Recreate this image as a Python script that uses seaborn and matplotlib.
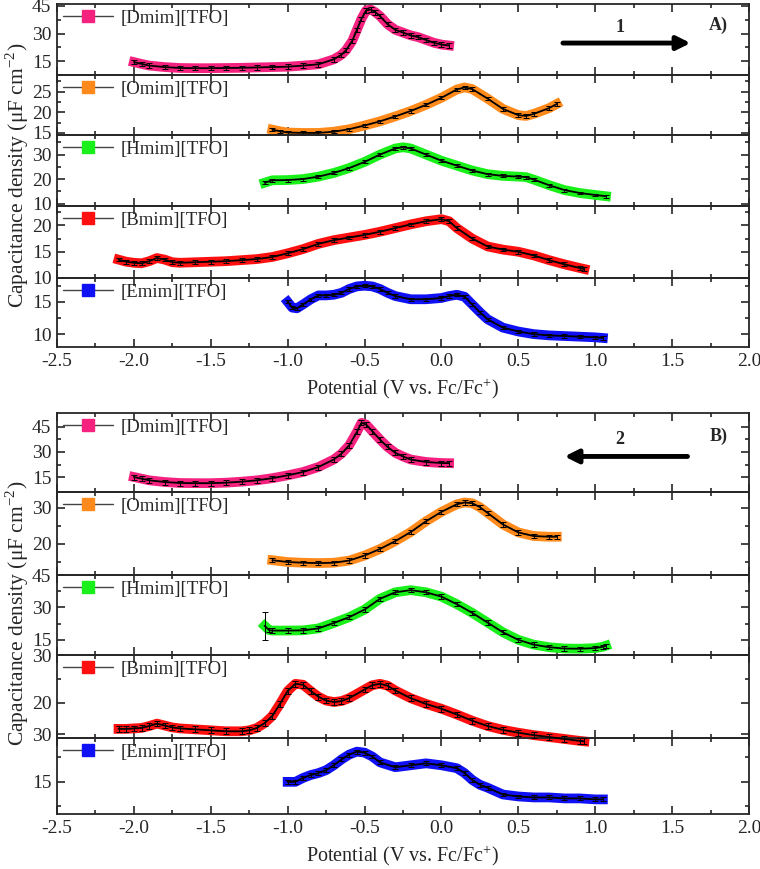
import numpy as np
import matplotlib
matplotlib.use('Agg')
import matplotlib.pyplot as plt
import seaborn as sns
from matplotlib.lines import Line2D
from matplotlib.ticker import MultipleLocator, FixedLocator

# ---- data (V vs. Fc/Fc+, uF cm-2) ----
names = ['[Dmim][TFO]', '[Omim][TFO]', '[Hmim][TFO]', '[Bmim][TFO]', '[Emim][TFO]']
colors = ['#f5217f', '#ff8a1c', '#19f019', '#ff1010', '#1010f5']

# panel A (scan direction 1)
dmim_a_x = [-2.0, -1.95, -1.9, -1.8, -1.7, -1.6, -1.5, -1.4, -1.3, -1.2, -1.1, -1.0, -0.9, -0.8, -0.7,
            -0.65, -0.62, -0.58, -0.55, -0.52, -0.49, -0.46, -0.43, -0.4, -0.35, -0.3, -0.25, -0.2, -0.15,
            -0.1, -0.05, 0.0, 0.05]
dmim_a_y = [14.5, 13.5, 12.6, 11.8, 11.3, 11.2, 11.2, 11.3, 11.4, 11.6, 11.8, 12.0, 12.6, 13.3, 16.0,
            18.5, 21.0, 26.0, 32.0, 38.0, 42.5, 43.0, 41.5, 39.5, 35.0, 32.0, 30.5, 29.0, 28.0,
            26.5, 25.0, 24.0, 23.5]
omim_a_x = [-1.1, -1.05, -1.0, -0.9, -0.8, -0.7, -0.6, -0.5, -0.4, -0.3, -0.2, -0.1, 0.0, 0.1, 0.15,
            0.2, 0.3, 0.4, 0.5, 0.55, 0.6, 0.7, 0.75]
omim_a_y = [15.8, 15.4, 15.1, 15.0, 15.0, 15.3, 15.9, 16.8, 17.8, 19.0, 20.3, 21.8, 23.5, 25.5, 26.0,
            25.6, 23.3, 20.8, 19.3, 19.1, 19.6, 21.0, 22.0]
hmim_a_x = [-1.15, -1.1, -1.0, -0.9, -0.8, -0.7, -0.6, -0.5, -0.4, -0.3, -0.25, -0.2, -0.1, 0.0, 0.1,
            0.2, 0.3, 0.4, 0.5, 0.55, 0.6, 0.7, 0.8, 0.9, 1.0, 1.07]
hmim_a_y = [18.5, 19.5, 19.6, 20.0, 21.0, 22.5, 24.5, 27.0, 30.0, 32.5, 33.0, 32.5, 30.0, 27.5, 25.5,
            23.5, 22.0, 21.3, 21.0, 20.8, 19.8, 17.5, 15.5, 14.3, 13.5, 13.0]
bmim_a_x = [-2.1, -2.05, -2.0, -1.95, -1.9, -1.85, -1.8, -1.75, -1.7, -1.6, -1.5, -1.4, -1.3, -1.2, -1.1,
            -1.0, -0.9, -0.8, -0.7, -0.6, -0.5, -0.4, -0.3, -0.2, -0.1, 0.0, 0.05, 0.1, 0.2, 0.3,
            0.4, 0.5, 0.6, 0.7, 0.8, 0.9, 0.93]
bmim_a_y = [13.5, 13.1, 12.9, 12.8, 13.2, 13.8, 13.5, 13.0, 12.9, 13.0, 13.1, 13.2, 13.4, 13.6, 14.0,
            14.7, 15.5, 16.5, 17.2, 17.7, 18.2, 18.8, 19.5, 20.2, 20.8, 21.2, 20.8, 19.5, 17.5, 16.0,
            15.4, 15.0, 14.3, 13.4, 12.6, 11.9, 11.7]
emim_a_x = [-1.0, -0.97, -0.94, -0.9, -0.85, -0.8, -0.75, -0.7, -0.65, -0.6, -0.55, -0.5, -0.45, -0.4,
            -0.35, -0.3, -0.2, -0.1, 0.0, 0.05, 0.1, 0.15, 0.2, 0.25, 0.3, 0.4, 0.5, 0.6, 0.7, 0.8,
            0.9, 1.0, 1.05]
emim_a_y = [15.0, 14.1, 14.0, 14.6, 15.4, 16.0, 16.0, 16.1, 16.4, 17.0, 17.4, 17.5, 17.4, 17.0,
            16.4, 15.9, 15.4, 15.4, 15.6, 15.9, 16.1, 15.8, 14.6, 13.4, 12.3, 11.0, 10.4, 10.0, 9.8, 9.7,
            9.6, 9.5, 9.4]

# panel B (scan direction 2)
dmim_b_x = [-2.0, -1.95, -1.9, -1.8, -1.7, -1.6, -1.5, -1.4, -1.3, -1.2, -1.1, -1.0, -0.9, -0.8, -0.7,
            -0.65, -0.6, -0.55, -0.52, -0.49, -0.45, -0.4, -0.35, -0.3, -0.25, -0.2, -0.1, 0.0, 0.05]
dmim_b_y = [15.0, 14.0, 13.0, 12.0, 11.4, 11.3, 11.3, 11.6, 12.2, 13.0, 14.3, 16.0, 18.0, 21.0, 25.5,
            29.0, 34.0, 42.0, 47.5, 46.5, 42.5, 37.5, 33.0, 29.5, 27.3, 25.5, 24.0, 23.4, 23.3]
omim_b_x = [-1.1, -1.0, -0.9, -0.8, -0.7, -0.6, -0.5, -0.4, -0.3, -0.2, -0.1, 0.0, 0.1, 0.15, 0.2,
            0.25, 0.3, 0.4, 0.5, 0.6, 0.7, 0.75]
omim_b_y = [15.5, 15.0, 14.8, 14.7, 14.8, 15.4, 16.8, 18.6, 20.8, 23.3, 26.3, 28.9, 31.0, 31.5, 31.3,
            30.2, 28.6, 25.4, 23.2, 22.2, 22.0, 22.0]
hmim_b_x = [-1.15, -1.12, -1.1, -1.0, -0.9, -0.8, -0.7, -0.6, -0.5, -0.4, -0.3, -0.2, -0.1, 0.0, 0.1,
            0.2, 0.3, 0.4, 0.5, 0.6, 0.7, 0.8, 0.9, 1.0, 1.05, 1.07]
hmim_b_y = [21.5, 19.5, 19.3, 19.3, 19.4, 20.3, 22.8, 25.5, 29.0, 34.0, 37.0, 38.0, 37.0, 35.0, 31.5,
            27.5, 23.0, 18.5, 15.0, 12.8, 11.6, 11.0, 10.9, 11.2, 11.8, 12.3]
bmim_b_x = [-2.1, -2.05, -2.0, -1.95, -1.9, -1.85, -1.8, -1.75, -1.7, -1.6, -1.5, -1.4, -1.3, -1.25,
            -1.2, -1.15, -1.1, -1.05, -1.0, -0.95, -0.9, -0.85, -0.8, -0.75, -0.7, -0.65, -0.6, -0.5,
            -0.45, -0.4, -0.35, -0.3, -0.2, -0.1, 0.0, 0.1, 0.2, 0.3, 0.4, 0.5, 0.6, 0.7, 0.8, 0.9, 0.93]
bmim_b_y = [14.6, 14.6, 14.7, 14.8, 15.2, 15.7, 15.3, 14.9, 14.7, 14.5, 14.3, 14.1, 14.1, 14.3,
            14.8, 15.8, 17.3, 19.8, 22.5, 24.0, 23.8, 22.5, 21.3, 20.5, 20.2, 20.4, 21.0, 22.8,
            23.7, 24.0, 23.6, 22.6, 21.0, 19.8, 18.8, 17.6, 16.3, 15.2, 14.4, 13.8, 13.3, 12.9, 12.5, 12.1, 12.0]
emim_b_x = [-1.0, -0.95, -0.9, -0.85, -0.8, -0.75, -0.7, -0.65, -0.6, -0.55, -0.5, -0.45, -0.4, -0.3,
            -0.2, -0.1, 0.0, 0.1, 0.15, 0.2, 0.25, 0.3, 0.4, 0.5, 0.6, 0.7, 0.8, 0.9, 1.0, 1.05]
emim_b_y = [15.0, 15.0, 15.4, 15.7, 15.9, 16.2, 16.7, 17.3, 17.8, 18.1, 18.0, 17.6, 17.0, 16.5,
            16.7, 16.9, 16.7, 16.4, 15.9, 15.2, 14.7, 14.4, 13.7, 13.5, 13.4, 13.4, 13.3, 13.3, 13.2, 13.2]

# approximate error-bar half heights per series
err_a = [1.2, 0.4, 0.6, 0.35, 0.25]
err_b = [1.5, 0.6, 1.0, 0.6, 0.2]
hmim_b_first_err = 6.5

series_a = [(dmim_a_x, dmim_a_y), (omim_a_x, omim_a_y), (hmim_a_x, hmim_a_y),
            (bmim_a_x, bmim_a_y), (emim_a_x, emim_a_y)]
series_b = [(dmim_b_x, dmim_b_y), (omim_b_x, omim_b_y), (hmim_b_x, hmim_b_y),
            (bmim_b_x, bmim_b_y), (emim_b_x, emim_b_y)]

# y-axis settings per subplot: (ylim, major ticks, tick labels, minor ticks)
yaxes_a = [((7.5, 46.0), [15, 30, 45], None, [22.5, 37.5]),
           ((14.5, 29.0), [15, 20, 25], None, [17.5, 22.5, 27.5]),
           ((9.0, 38.0), [10, 20, 30], None, [15, 25, 35]),
           ((10.0, 23.7), [10, 15, 20], None, [12.5, 17.5, 22.5]),
           ((8.0, 18.7), [10, 15], None, [12.5, 17.5])]
yaxes_b = [((6.0, 53.4), [15, 30, 45], None, [22.5, 37.5]),
           ((11.4, 34.4), [20, 30], None, [15, 25]),
           ((8.0, 45.0), [15, 30, 45], None, [22.5, 37.5]),
           ((12.7, 30.0), [13.5, 20, 30], ['30', '20', '30'], [25]),
           ((11.7, 19.5), [15], None, [12.5, 17.5])]

# subplot boundaries in pixels (top, bottom)
rows_a = [(4, 75), (75, 135), (135, 206), (206, 278), (278, 347)]
rows_b = [(413, 492), (492, 575), (575, 655), (655, 738), (738, 814)]

W, H = 760, 869
sns.set_style('ticks')
plt.rcParams['font.family'] = ['Liberation Serif', 'DejaVu Serif']
plt.rcParams['mathtext.fontset'] = 'custom'
plt.rcParams['mathtext.rm'] = 'Liberation Serif'
plt.rcParams['axes.linewidth'] = 1.3
plt.rcParams['axes.unicode_minus'] = False

fig = plt.figure(figsize=(W / 100, H / 100), dpi=100)


def draw_panel(rows, series, errs, yaxes, tag, arrow, hmim_extra=None):
    axes = []
    for i, ((top, bot), (x, y), err, (ylim, maj, labs, mnr)) in enumerate(zip(rows, series, errs, yaxes)):
        ax = fig.add_axes([57 / W, 1 - bot / H, 692 / W, (bot - top) / H])
        ax.set_facecolor('none')
        col = colors[i]
        clip = not (tag == 'B)' and i == 3)
        if not clip:
            ax.set_zorder(5)
        # coloured band of square markers
        sns.lineplot(x=x, y=y, ax=ax, color=col, lw=7, sort=False, estimator=None,
                     solid_capstyle='projecting', zorder=2, clip_on=clip)
        yerr = [err] * len(y)
        if hmim_extra is not None and i == 2:
            yerr[0] = hmim_extra
        ax.errorbar(x, y, yerr=yerr, fmt='none', ecolor='black', elinewidth=0.7,
                    capsize=2.5, capthick=0.7, zorder=3, clip_on=clip)
        ax.plot(x, y, color='black', lw=1.3, zorder=4, clip_on=clip)
        ax.set_xlim(-2.5, 2.0)
        ax.set_ylim(*ylim)
        ax.xaxis.set_major_locator(MultipleLocator(0.5))
        ax.xaxis.set_minor_locator(MultipleLocator(0.25))
        ax.yaxis.set_major_locator(FixedLocator(maj))
        ax.yaxis.set_minor_locator(FixedLocator(mnr))
        if labs is not None:
            ax.set_yticklabels(labs)
        ax.tick_params(which='both', direction='in', top=True, right=True, width=1.2,
                       labelsize=14, pad=4)
        ax.tick_params(which='major', length=6)
        ax.tick_params(which='minor', length=3)
        ax.set_ylabel('')
        ax.set_xlabel('')
        if i < 4:
            ax.tick_params(labelbottom=False)
        handle = Line2D([0], [0], color='#444444', lw=1.0, marker='s', ms=8.5,
                        mfc=col, mec=col)
        ax.legend([handle], [names[i]], loc='upper left', frameon=False, fontsize=13.5,
                  handlelength=2.7, handletextpad=0.4, borderaxespad=0.05, borderpad=0.25)
        axes.append(ax)

    top_ax = axes[0]
    top_ax.text(1.80, 0.70, tag, transform=top_ax.get_xaxis_transform(), fontsize=13,
                fontweight='bold', ha='center', va='center')
    x0, x1, num = arrow
    top_ax.annotate('', xy=(x1, 0.45), xytext=(x0, 0.45), xycoords=top_ax.get_xaxis_transform(),
                    arrowprops=dict(arrowstyle='-|>', lw=3.5, color='black', mutation_scale=20,
                                    shrinkA=0, shrinkB=0))
    top_ax.text(1.16, 0.67, num, transform=top_ax.get_xaxis_transform(), fontsize=13,
                fontweight='bold', ha='center', va='center')
    axes[-1].set_xlabel('Potential (V vs. Fc/Fc$^{+}$)', fontsize=14.5, labelpad=5)
    mid = 1 - (rows[0][0] + rows[-1][1]) / 2 / H
    fig.text(3 / W, mid, 'Capacitance density (μF cm$^{-2}$)', rotation=90, fontsize=15.5,
             ha='left', va='center')
    return axes


draw_panel(rows_a, series_a, err_a, yaxes_a, 'A)', (0.79, 1.62, '1'))
draw_panel(rows_b, series_b, err_b, yaxes_b, 'B)', (1.60, 0.80, '2'), hmim_extra=hmim_b_first_err)

fig.savefig('out.png', dpi=100)
